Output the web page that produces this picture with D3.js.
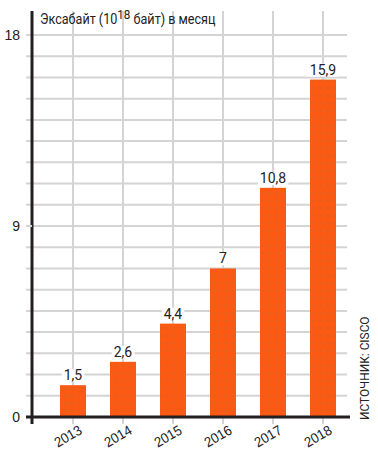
<!DOCTYPE html>
<html>
<head>
<meta charset="utf-8">
<script src="https://cdn.jsdelivr.net/npm/d3@7"></script>
<style>
  body { margin: 0; background: #fff; }
  svg { display: block; font-family: Roboto, "Liberation Sans", sans-serif; }
</style>
</head>
<body>
<div id="chart"></div>
<script>
const years = ["2013", "2014", "2015", "2016", "2017", "2018"];
const values = [1.5, 2.6, 4.4, 7, 10.8, 15.9];
const yTickLabels = [0, 9, 18];
const title = "Эксабайт (10";
const titleSup = "18";
const titleEnd = " байт) в месяц";
const source = "ИСТОЧНИК: CISCO";

const width = 378;
const height = 455;

const svg = d3.select("#chart")
    .append("svg")
    .attr("width", width)
    .attr("height", height);

const xScale = d3.scaleBand()
    .domain(years)
    .range([48, 348])
    .paddingInner(0.48)
    .paddingOuter(0.24);

const yScale = d3.scaleLinear()
    .domain([0, 18])
    .range([417, 35]);

// dotted fill for the bars
const pattern = svg.append("defs")
    .append("pattern")
    .attr("id", "dots")
    .attr("patternUnits", "userSpaceOnUse")
    .attr("width", 7.3)
    .attr("height", 7.5)
    .attr("x", 3)
    .attr("y", 2);
pattern.append("rect")
    .attr("width", 7.3)
    .attr("height", 7.5)
    .attr("fill", "#fa5a14");
pattern.append("circle")
    .attr("cx", 3.6)
    .attr("cy", 3.7)
    .attr("r", 0.6)
    .attr("fill", "#8c7a3c");

const cx = d => xScale(d) + xScale.bandwidth() / 2;

// vertical grid at category centers
svg.append("g")
    .selectAll("line")
    .data(years)
    .join("line")
    .attr("x1", cx)
    .attr("x2", cx)
    .attr("y1", 11)
    .attr("y2", 424)
    .attr("stroke", "#d4d4d4")
    .attr("stroke-width", 2);

// horizontal grid every unit
svg.append("g")
    .selectAll("line")
    .data(d3.range(1, 19))
    .join("line")
    .attr("x1", 26)
    .attr("x2", 347)
    .attr("y1", d => yScale(d))
    .attr("y2", d => yScale(d))
    .attr("stroke", "#d4d4d4")
    .attr("stroke-width", 2);

// bars
svg.append("g")
    .selectAll("rect")
    .data(values)
    .join("rect")
    .attr("x", (d, i) => xScale(years[i]))
    .attr("width", xScale.bandwidth())
    .attr("y", d => yScale(d))
    .attr("height", d => yScale(0) - yScale(d))
    .attr("fill", "url(#dots)");

// value labels with white background
const labels = svg.append("g")
    .selectAll("g")
    .data(values)
    .join("g")
    .attr("transform", (d, i) => `translate(${cx(years[i])},${yScale(d) - 5})`);

labels.append("text")
    .attr("text-anchor", "middle")
    .attr("font-size", 14)
    .attr("fill", "#222")
    .text(d => String(d).replace(".", ","))
    .each(function () {
        const b = this.getBBox();
        d3.select(this.parentNode).insert("rect", "text")
            .attr("x", b.x - 2)
            .attr("y", b.y + 2)
            .attr("width", b.width + 4)
            .attr("height", b.height - 3)
            .attr("fill", "#fff");
    });

// axes
const yAxis = d3.axisLeft(yScale)
    .tickValues(yTickLabels)
    .tickSize(0)
    .tickPadding(12);

svg.append("g")
    .attr("transform", "translate(32,0)")
    .call(yAxis)
    .call(g => g.select(".domain").remove())
    .selectAll("text")
    .attr("font-size", 14)
    .attr("fill", "#222")
    .attr("font-family", null);

const xAxis = d3.axisBottom(xScale).tickSize(0).tickPadding(0);

svg.append("g")
    .attr("transform", "translate(0,417)")
    .call(xAxis)
    .call(g => g.select(".domain").remove())
    .selectAll("text")
    .attr("font-size", 14)
    .attr("fill", "#222")
    .attr("font-family", null)
    .attr("text-anchor", "end")
    .attr("y", 0)
    .attr("dy", null)
    .attr("transform", "translate(10,16) rotate(-30) scale(0.94,1)");

// black axis lines
svg.append("line")
    .attr("x1", 32).attr("x2", 32)
    .attr("y1", 11).attr("y2", 424)
    .attr("stroke", "#231f20")
    .attr("stroke-width", 3);
svg.append("line")
    .attr("x1", 26).attr("x2", 350)
    .attr("y1", yScale(0)).attr("y2", yScale(0))
    .attr("stroke", "#231f20")
    .attr("stroke-width", 3);
svg.append("line")
    .attr("x1", 26).attr("x2", 32)
    .attr("y1", yScale(9)).attr("y2", yScale(9))
    .attr("stroke", "#d4d4d4")
    .attr("stroke-width", 2);

// title
const t = svg.append("text")
    .attr("transform", "translate(40,24) scale(0.9,1)")
    .attr("font-size", 14)
    .attr("fill", "#222");
t.append("tspan").text(title);
t.append("tspan").attr("dy", -5).attr("font-size", 13).text(titleSup);
t.append("tspan").attr("dy", 5).text(titleEnd);

// source
svg.append("text")
    .attr("transform", "translate(369,420) rotate(-90) scale(0.95,1)")
    .attr("font-size", 12.5)
    .attr("fill", "#222")
    .text(source);
</script>
</body>
</html>
